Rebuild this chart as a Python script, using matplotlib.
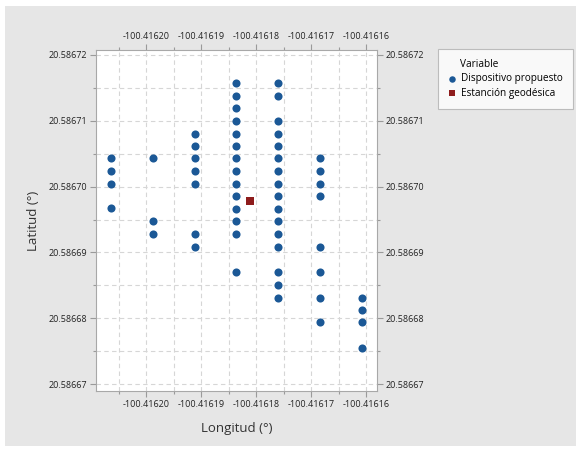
import matplotlib
matplotlib.use("Agg")
import matplotlib.pyplot as plt
from matplotlib.patches import Rectangle
from matplotlib.ticker import FixedLocator, FormatStrFormatter

plt.rcParams['font.family'] = ['Open Sans', 'DejaVu Sans']

# Device points (longitude, latitude)
dev_lon = ([-100.4162064] * 4 +
           [-100.4161988] * 3 +
           [-100.4161911] * 7 +
           [-100.4161836] * 14 +
           [-100.4161761] * 16 +
           [-100.4161683] * 8 +
           [-100.4161608] * 4)
dev_lat = [
    # col1
    20.5867043, 20.5867024, 20.5867004, 20.5866968,
    # col2
    20.5867043, 20.5866947, 20.5866928,
    # col3
    20.5867080, 20.5867061, 20.5867043, 20.5867024, 20.5867004, 20.5866928, 20.5866908,
    # col4
    20.5867157, 20.5867137, 20.5867119, 20.5867100, 20.5867080, 20.5867061, 20.5867043,
    20.5867024, 20.5867004, 20.5866985, 20.5866966, 20.5866947, 20.5866928, 20.5866870,
    # col5
    20.5867157, 20.5867137, 20.5867100, 20.5867080, 20.5867061, 20.5867043, 20.5867024,
    20.5867004, 20.5866985, 20.5866966, 20.5866947, 20.5866928, 20.5866908, 20.5866870,
    20.5866851, 20.5866831,
    # col6
    20.5867043, 20.5867024, 20.5867004, 20.5866985, 20.5866908, 20.5866870, 20.5866831,
    20.5866794,
    # col7
    20.5866831, 20.5866813, 20.5866794, 20.5866755,
]
geo_lon = [-100.4161812]
geo_lat = [20.5866978]

x_ticks = [-100.41620, -100.41619, -100.41618, -100.41617, -100.41616]
y_ticks = [20.58667, 20.58668, 20.58669, 20.58670, 20.58671, 20.58672]
series_names = ["Dispositivo propuesto", "Estanción geodésica"]

W, H = 579, 451
fig = plt.figure(figsize=(W / 100, H / 100), dpi=100)
fig.patch.set_facecolor('white')
bg = Rectangle((5 / W, (H - 446) / H), 571 / W, 440 / H,
               transform=fig.transFigure, facecolor='#e6e6e6',
               edgecolor='none', zorder=-10)
fig.patches.append(bg)

ax = fig.add_axes([96 / W, (H - 391) / H, 281 / W, 341 / H])
ax.set_zorder(1)
ax.set_facecolor('white')

blue = '#1b5896'
red = '#8e1c1c'
h1 = ax.scatter(dev_lon, dev_lat, s=34, marker='o', color=blue, zorder=3,
                label=series_names[0], linewidths=0)
h2 = ax.scatter(geo_lon, geo_lat, s=34, marker='s', color=red, zorder=3,
                label=series_names[1], linewidths=0)

ax.set_xlim(-100.4162092, -100.4161580)
ax.set_ylim(20.5866690, 20.5867207)

ax.xaxis.set_major_locator(FixedLocator(x_ticks))
ax.yaxis.set_major_locator(FixedLocator(y_ticks))
xminor = [x_ticks[0] - 0.000005] + [t + 0.000005 for t in x_ticks]
yminor = [t + 0.000005 for t in y_ticks[:-1]]
ax.xaxis.set_minor_locator(FixedLocator(xminor))
ax.yaxis.set_minor_locator(FixedLocator(yminor))
ax.xaxis.set_major_formatter(FormatStrFormatter('%.5f'))
ax.yaxis.set_major_formatter(FormatStrFormatter('%.5f'))

ax.tick_params(which='both', direction='out', color='#9a9a9a', width=0.8,
               top=True, right=True, labeltop=True, labelright=True,
               labelsize=6.5, labelcolor='#222222')
ax.tick_params(which='major', length=4, pad=2.5)
ax.tick_params(which='minor', length=2.5)

ax.grid(True, which='both', linestyle=(0, (4, 3)), color='#d6d6d6', linewidth=0.8, zorder=0)
ax.set_axisbelow(True)
for sp in ax.spines.values():
    sp.set_color('#a8a8a8')
    sp.set_linewidth(0.8)

ax.set_xlabel('Longitud (°)', fontsize=9.5, color='#333333', labelpad=9)
ax.set_ylabel('Latitud (°)', fontsize=9.5, color='#333333', labelpad=6)

leg = ax.legend(handles=[h1, h2], title='Variable', loc='upper left',
                bbox_to_anchor=(438 / W, (H - 49) / H), bbox_transform=fig.transFigure,
                borderaxespad=0,
                fontsize=7.2, title_fontsize=7.2, frameon=True, fancybox=False,
                edgecolor='#b0b0b0', handletextpad=0.5, handlelength=0.8,
                borderpad=1.0, labelspacing=0.35, alignment='left', markerscale=0.8)
leg.get_frame().set_linewidth(0.8)
# indent the title to line up with the entry labels, as in the reference
leg.get_title().set_position((12, 0))

fig.savefig('out.png', dpi=100, facecolor=fig.get_facecolor())
